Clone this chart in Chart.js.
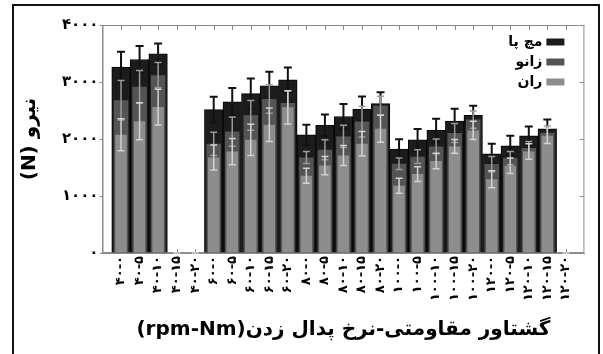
<!DOCTYPE html>
<html>
<head>
<meta charset="utf-8">
<script src="https://cdn.jsdelivr.net/npm/chart.js@4.4.1/dist/chart.umd.min.js"></script>
<style>
    html, body { margin: 0; padding: 0; background: #fff; overflow: hidden; }
    #wrap { position: relative; width: 603px; height: 354px; }
    #frame { position: absolute; left: 12px; top: 4px; width: 584px; height: 400px; border: 2px solid #111; pointer-events: none; }
</style>
</head>
<body>
<div id="wrap">
    <canvas id="forceChart" dir="rtl"></canvas>
    <div id="frame"></div>
</div>
<script>
// cadence (rpm) and resistance torque (Nm)
var rpmLevels = ['۴۰', '۶۰', '۸۰', '۱۰۰', '۱۲۰'];
var torqueLevels = ['۰', '۵', '۱۰', '۱۵', '۲۰'];
var yTickLabels = ['۰', '۱۰۰۰', '۲۰۰۰', '۳۰۰۰', '۴۰۰۰'];

// مچ پا
var ankle =    [3260, 3395, 3495, null, null, 2515, 2650, 2795, 2935, 3040, 2075, 2240, 2395, 2525, 2620, 1825, 1985, 2150, 2315, 2415, 1740, 1880, 2055, 2180, null];
var ankleErr = [270, 235, 180, 0, 0, 225, 245, 265, 245, 215, 175, 190, 220, 220, 200, 170, 190, 205, 215, 170, 175, 175, 165, 160, 0];
// زانو
var knee =     [2680, 2915, 3120, null, null, 1915, 2130, 2415, 2700, 2630, 1675, 1810, 2045, 2305, 2585, 1565, 1690, 1870, 2105, 2340, 1560, 1665, 1840, 2110, null];
var kneeErr =  [345, 285, 220, 0, 0, 205, 255, 260, 250, 215, 105, 175, 195, 270, 165, 100, 120, 130, 165, 150, 135, 115, 115, 120, 0];
// ران
var thigh =    [2075, 2310, 2560, 0, 0, 1675, 1780, 1985, 2250, 2555, 1355, 1535, 1710, 1915, 2180, 1180, 1385, 1615, 1870, 2150, 1295, 1530, 1780, 2055, 0];
var thighErr = [280, 325, 315, 0, 0, 220, 230, 275, 295, 290, 130, 160, 175, 215, 235, 130, 130, 135, 120, 160, 150, 135, 135, 135, 0];

var persianFont = 'DejaVu Sans';

// labels "rpm-Nm", with an empty slot on each end of the axis
var labels = [''];
rpmLevels.forEach(function(r) {
    torqueLevels.forEach(function(t) {
        labels.push(r + '-' + t);
    });
});
labels.push('');

function pad(arr) {
    return [null].concat(arr, [null]);
}

// error bars drawn right after each dataset so later bars cover the lower half
var errorBars = {
    id: 'errorBars',
    afterDatasetDraw: function(chart, args) {
        var ds = chart.data.datasets[args.index];
        var yScale = chart.scales.y;
        var ctx = chart.ctx;
        ctx.save();
        ctx.strokeStyle = ds.errorColor;
        ctx.lineWidth = ds.errorWidth;
        args.meta.data.forEach(function(bar, i) {
            var v = ds.data[i];
            var e = ds.errors[i];
            if (v == null || e == null) return;
            var top = yScale.getPixelForValue(v + e);
            var bot = yScale.getPixelForValue(Math.max(v - e, 0));
            var hw = ds.capHalf;
            ctx.beginPath();
            ctx.moveTo(bar.x, top);
            ctx.lineTo(bar.x, bot);
            ctx.moveTo(bar.x - hw, top);
            ctx.lineTo(bar.x + hw, top);
            ctx.moveTo(bar.x - hw, bot);
            ctx.lineTo(bar.x + hw, bot);
            ctx.stroke();
        });
        ctx.restore();
    }
};

// gray box round the plot with inward ticks on top, bottom and right
var axisBox = {
    id: 'axisBox',
    beforeDatasetsDraw: function(chart) {
        var ctx = chart.ctx;
        var a = chart.chartArea;
        var xs = chart.scales.x;
        var ys = chart.scales.y;
        ctx.save();
        ctx.strokeStyle = '#8c8c8c';
        ctx.lineWidth = 1;
        ctx.strokeRect(a.left + 0.5, a.top + 0.5, a.right - a.left - 1, a.bottom - a.top - 1);
        ctx.beginPath();
        for (var i = 1; i < xs.ticks.length - 1; i++) {
            var px = Math.round(xs.getPixelForTick(i)) + 0.5;
            ctx.moveTo(px, a.top);
            ctx.lineTo(px, a.top + 5);
            ctx.moveTo(px, a.bottom);
            ctx.lineTo(px, a.bottom - 4);
        }
        ys.ticks.forEach(function(t, j) {
            var py = Math.round(ys.getPixelForTick(j)) + 0.5;
            ctx.moveTo(a.right, py);
            ctx.lineTo(a.right - 5, py);
        });
        ctx.stroke();
        ctx.restore();
    }
};

// legend in the top right corner of the plot, text left of the box
var boxLegend = {
    id: 'boxLegend',
    afterDraw: function(chart) {
        var ctx = chart.ctx;
        var a = chart.chartArea;
        ctx.save();
        ctx.font = 'bold 14px "' + persianFont + '"';
        ctx.textAlign = 'right';
        ctx.textBaseline = 'middle';
        chart.data.datasets.forEach(function(ds, i) {
            var cy = a.top + 17 + i * 20;
            var bx = a.right - 38;
            ctx.fillStyle = ds.backgroundColor;
            ctx.fillRect(bx, cy - 3.5, 18, 7);
            ctx.fillStyle = '#000';
            ctx.fillText(ds.label, bx - 4, cy);
        });
        ctx.restore();
    }
};

var ctx = document.getElementById('forceChart').getContext('2d');
new Chart(ctx, {
    type: 'bar',
    data: {
        labels: labels,
        datasets: [{
            label: 'مچ پا',
            data: pad(ankle),
            errors: pad(ankleErr),
            backgroundColor: '#1c1c1c',
            borderColor: '#050505',
            borderWidth: 1,
            errorColor: '#111111',
            errorWidth: 2,
            capHalf: 4,
            barPercentage: 1.0,
            order: 3
        }, {
            label: 'زانو',
            data: pad(knee),
            errors: pad(kneeErr),
            backgroundColor: '#545454',
            errorColor: '#9a9a9a',
            errorWidth: 1.5,
            capHalf: 3.5,
            barPercentage: 0.78,
            order: 2
        }, {
            label: 'ران',
            data: pad(thigh),
            errors: pad(thighErr),
            backgroundColor: '#8d8d8d',
            errorColor: '#d2d2d2',
            errorWidth: 1.5,
            capHalf: 3.5,
            barPercentage: 0.62,
            order: 1
        }]
    },
    options: {
        responsive: true,
        maintainAspectRatio: false,
        animation: false,
        grouped: false,
        categoryPercentage: 1.0,
        layout: {
            padding: { top: 25, right: 9, left: 0, bottom: 0 }
        },
        plugins: {
            legend: { display: false },
            tooltip: { enabled: false }
        },
        scales: {
            x: {
                type: 'category',
                offset: false,
                grid: { display: false, drawTicks: false },
                border: { color: '#8c8c8c' },
                ticks: {
                    autoSkip: false,
                    minRotation: 90,
                    maxRotation: 90,
                    padding: 3,
                    color: '#000',
                    font: { family: persianFont, size: 13, weight: 'bold' }
                },
                title: {
                    display: true,
                    text: 'گشتاور مقاومتی-نرخ پدال زدن(rpm-Nm)',
                    color: '#000',
                    font: { family: persianFont, size: 20, weight: 'bold' },
                    padding: { top: 4, bottom: 12 }
                },
                afterFit: function(scale) {
                    scale.height = 101;
                }
            },
            y: {
                min: 0,
                max: 4000,
                grid: { drawOnChartArea: false, drawTicks: true, tickLength: 3, color: '#8c8c8c' },
                border: { color: '#8c8c8c' },
                ticks: {
                    stepSize: 1000,
                    padding: 1,
                    color: '#000',
                    font: { family: persianFont, size: 15, weight: 'bold' },
                    callback: function(value, index) {
                        return yTickLabels[index];
                    }
                },
                title: {
                    display: true,
                    text: 'نیرو (N)',
                    color: '#000',
                    font: { family: persianFont, size: 20, weight: 'bold' },
                    padding: { top: 18, bottom: 0 }
                },
                afterFit: function(scale) {
                    scale.width = 102.5;
                }
            }
        }
    },
    plugins: [axisBox, errorBars, boxLegend]
});
</script>
</body>
</html>
